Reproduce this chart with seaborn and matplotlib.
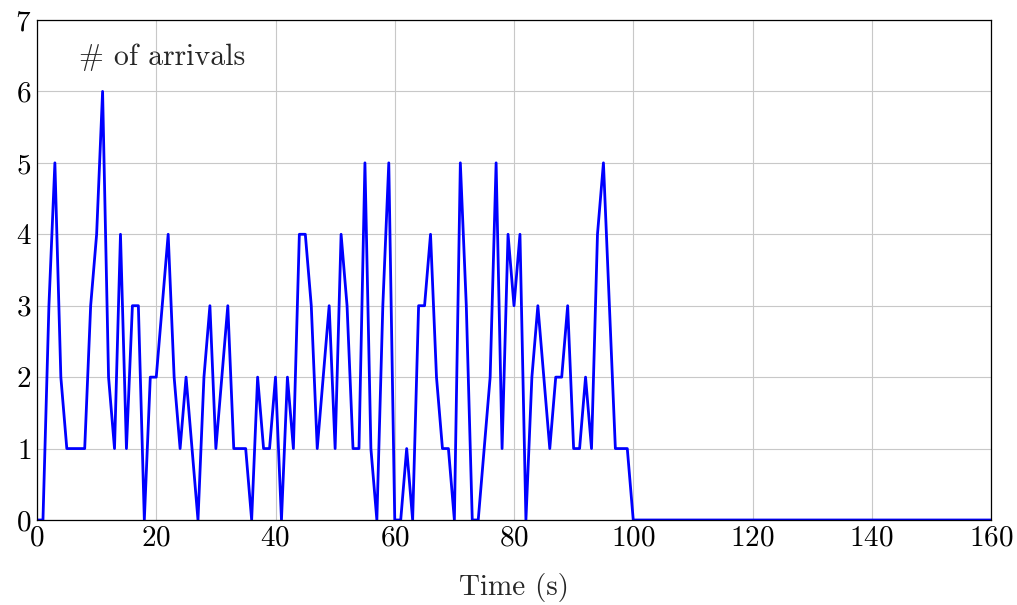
import matplotlib
matplotlib.use("Agg")
import matplotlib.pyplot as plt
import seaborn as sns
import pandas as pd

# arrivals per second (t = 0 .. 100), then idle to 160 s
arrivals = [0, 0, 3, 5, 2, 1, 1, 1, 1, 3,
            4, 6, 2, 1, 4, 1, 3, 3, 0, 2,
            2, 3, 4, 2, 1, 2, 1, 0, 2, 3,
            1, 2, 3, 1, 1, 1, 0, 2, 1, 1,
            2, 0, 2, 1, 4, 4, 3, 1, 2, 3,
            1, 4, 3, 1, 1, 5, 1, 0, 3, 5,
            0, 0, 1, 0, 3, 3, 4, 2, 1, 1,
            0, 5, 3, 0, 0, 1, 2, 5, 1, 4,
            3, 4, 0, 2, 3, 2, 1, 2, 2, 3,
            1, 1, 2, 1, 4, 5, 3, 1, 1, 1,
            0] + [0] * 60
time = list(range(len(arrivals)))

x_ticks = [0, 20, 40, 60, 80, 100, 120, 140, 160]
y_ticks = [0, 1, 2, 3, 4, 5, 6, 7]

df = pd.DataFrame({"Time": time, "Arrivals": arrivals})

sns.set_style("white")
plt.rcParams["font.family"] = ["cmr10", "DejaVu Serif"]
plt.rcParams["mathtext.fontset"] = "cm"
plt.rcParams["axes.formatter.use_mathtext"] = True

fig = plt.figure(figsize=(10.17, 6.05), dpi=100)
ax = fig.add_axes([37 / 1017, 1 - 520 / 605, (991 - 37) / 1017, 500 / 605])

sns.lineplot(data=df, x="Time", y="Arrivals", color="#0000ff", linewidth=2.0, ax=ax)

ax.set_xlim(0, 160)
ax.set_ylim(0, 7)
ax.set_xticks(x_ticks)
ax.set_yticks(y_ticks)
ax.grid(True, color="#c8c8c8", linewidth=0.8)
ax.tick_params(direction="in", length=4, width=0.6, colors="#555555",
               labelcolor="black", labelsize=21, pad=4)
for s in ax.spines.values():
    s.set_color("black")
    s.set_linewidth(0.9)

ax.set_xlabel("Time (s)", fontsize=21, labelpad=15)
ax.set_ylabel("")
ax.text(0.044, 0.925, "# of arrivals", transform=ax.transAxes, fontsize=21.5,
        ha="left", va="center")

fig.savefig("out.png", dpi=100)
